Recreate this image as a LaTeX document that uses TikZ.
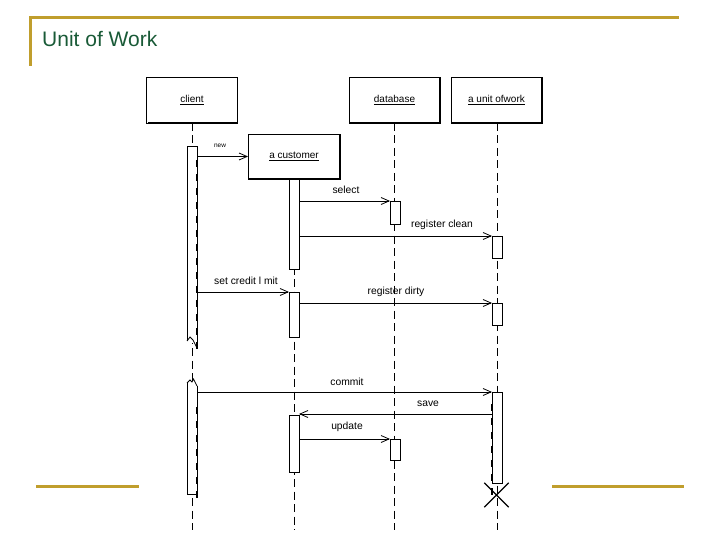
\documentclass[tikz,border=0pt]{standalone}
\usepackage{fontspec}
\setmainfont{Liberation Sans}
\usetikzlibrary{arrows.meta,shapes.misc}
\definecolor{goldline}{RGB}{192,158,45}
\definecolor{titlegreen}{RGB}{25,90,55}
\begin{document}
\begin{tikzpicture}[x=1pt,y=-1pt,
  obj/.style={draw, line width=0.8pt, minimum width=91pt, minimum height=46pt, inner sep=0pt, outer sep=0pt, font=\fontsize{10}{12}\selectfont},
  bar/.style={draw, fill=white, line width=0.8pt, minimum width=10pt, inner sep=0pt, outer sep=0pt},
  openbar/.style={fill=white, minimum width=10pt, inner sep=0pt, outer sep=0pt},
  life/.style={line width=0.9pt, dash pattern=on 8pt off 4.5pt},
  edgedash/.style={line width=2pt, dash pattern=on 7pt off 7pt},
  msg/.style={line width=0.8pt, -{Straight Barb[length=8pt,width=7pt]}},
  lbl/.style={font=\fontsize{10.3}{12}\selectfont, inner sep=0pt},
  tinylbl/.style={font=\fontsize{6.5}{8}\selectfont, inner sep=0pt},
  gold/.style={goldline, line width=3pt}]
\useasboundingbox (0,0) rectangle (720,540);

% frame
\coordinate (tl) at (30,18);
\coordinate (tr) at (679,18);
\coordinate (tlb) at (30,66);
\draw[gold] (tlb) -- (tl) -- (tr);
\coordinate (bl1) at (36,486);
\coordinate (bl2) at (139,486);
\coordinate (br1) at (552,486);
\coordinate (br2) at (684,486);
\draw[gold] (bl1) -- (bl2);
\draw[gold] (br1) -- (br2);
\node[anchor=west, inner sep=0pt, text=titlegreen, font=\fontsize{21}{24}\selectfont] (title) at (42,39) {Unit of Work};

% objects
\node[obj] (client) at (192,100) {\underline{client}};
\node[obj] (db) at (394.5,100) {\underline{database}};
\node[obj] (uow) at (496.5,100) {\underline{a unit ofwork}};
\node[obj, minimum width=92pt, minimum height=45pt] (cust) at (294,156.5) {\underline{a customer}};
\foreach \n in {client,db,uow,cust}{
  \draw[line width=1.6pt] ([yshift=-1pt]\n.north east) -- (\n.south east) -- ([xshift=1pt]\n.south west);
}

% lifelines
\coordinate (bottom) at (0,530);
\draw[life] (client.south) -- (client.south |- bottom);
\draw[life] (cust.south) -- (cust.south |- bottom);
\draw[life] (db.south) -- (db.south |- bottom);
\draw[life] ([xshift=0.5pt]uow.south) -- ([xshift=0.5pt]uow.south |- bottom);

% activation bars
\node[openbar, minimum height=197pt] (c1) at (192,244.5) {};
\draw[line width=0.8pt] ([yshift=2pt]c1.south west) -- (c1.north west) -- (c1.north east) -- ([yshift=-5pt]c1.south east);
\draw[line width=0.8pt] ([yshift=2pt]c1.south west) -- ++(3,-4) -- ++(3,3) -- ([yshift=-5pt]c1.south east);
\draw[edgedash] ([yshift=-14pt]c1.north east) -- ([yshift=-8pt]c1.south east);

\node[openbar, minimum height=109pt] (c2) at (192,439.5) {};
\draw[line width=0.8pt] ([yshift=2pt]c2.north west) -- (c2.south west) -- (c2.south east) -- ([yshift=-1pt]c2.north east);
\draw[line width=0.8pt] ([yshift=2pt]c2.north west) -- ++(3,-3) -- ++(2,2) -- ++(1.5,-3) -- ([yshift=-1pt]c2.north east);
\draw[edgedash] ([yshift=-22pt]c2.north east) -- ([yshift=-10pt]c2.south east);

\node[bar, minimum height=90pt] (cb1) at (294,224) {};
\node[bar, minimum height=45pt] (cb2) at (294,314.5) {};
\node[bar, minimum height=57pt] (cb3) at (294,443.5) {};
\node[bar, minimum height=23pt] (db1) at (395,212.5) {};
\node[bar, minimum height=21pt] (db2) at (395,449.5) {};
\node[bar, minimum height=22pt] (uw1) at (497,247) {};
\node[bar, minimum height=22pt] (uw2) at (497,314) {};
\node[bar, minimum height=91pt] (uw3) at (497,437.5) {};
\draw[edgedash] ([yshift=-12pt]uw3.north west) -- ([yshift=-12pt]uw3.south west);
\node[draw, cross out, line width=1.4pt, minimum width=23pt, minimum height=23pt, inner sep=0pt] (destroy) at (496.5,495) {};

% messages
\draw[msg] (c1.east |- cust.west) -- (cust.west);
\draw[msg] (cb1.east |- db1.north) -- (db1.north west);
\draw[msg] (cb1.east |- uw1.north) -- (uw1.north west);
\draw[msg] (c1.east |- cb2.north) -- (cb2.north west);
\draw[msg] (cb2.east |- uw2.north) -- (uw2.north west);
\draw[msg] (c2.east |- uw3.north) -- (uw3.north west);
\draw[msg] ([yshift=1pt]uw3.west |- cb3.north) -- ([yshift=1pt]cb3.north east);
\draw[msg] (cb3.east |- db2.north) -- (db2.north west);

% labels
\node[tinylbl] (lnew) at (220,146) {new};
\node[lbl] (lselect) at (346,190) {select};
\node[lbl] (lclean) at (442,225) {register clean};
\node[lbl] (lcredit) at (246,281) {set credit l mit};
\node[lbl] (ldirty) at (396,292) {register dirty};
\node[lbl] (lcommit) at (347,382) {commit};
\node[lbl] (lsave) at (428,404) {save};
\node[lbl] (lupdate) at (347,427) {update};
\end{tikzpicture}
\end{document}
